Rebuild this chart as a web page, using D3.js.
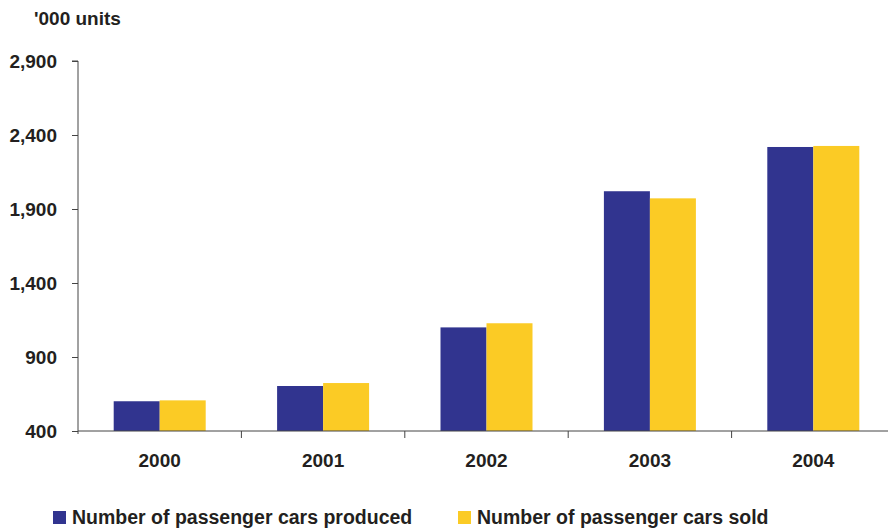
<!DOCTYPE html>
<html>
<head>
<meta charset="utf-8">
<script src="https://cdn.jsdelivr.net/npm/d3@7"></script>
<style>
  body { margin: 0; background: #fff; }
  text { font-family: "Liberation Sans", Arial, Helvetica, sans-serif; font-weight: bold; fill: #231f20; }
</style>
</head>
<body>
<svg id="chart"></svg>
<script>
// chart data
var years = ["2000", "2001", "2002", "2003", "2004"];
var produced = [601, 704, 1100, 2020, 2319];
var sold = [607, 724, 1128, 1972, 2326];
var yTicks = [400, 900, 1400, 1900, 2400, 2900];
var seriesNames = ["Number of passenger cars produced", "Number of passenger cars sold"];
var colors = ["#31348f", "#fbcb25"];

var width = 888, height = 530;
var plotLeft = 78, plotTop = 61, plotBottom = 431;

var svg = d3.select("#chart")
    .attr("width", width)
    .attr("height", height);

var y = d3.scaleLinear().domain([400, 2900]).range([plotBottom, plotTop]);
var x = d3.scaleBand().domain(years).range([plotLeft, 895]).paddingInner(0).paddingOuter(0);
var barW = 46;

// bars
var groups = svg.selectAll(".yr")
  .data(years)
  .enter().append("g")
    .attr("class", "yr");

groups.append("rect")
  .attr("x", function(d) { return x(d) + x.bandwidth()/2 - barW; })
  .attr("y", function(d, i) { return y(produced[i]); })
  .attr("width", barW)
  .attr("height", function(d, i) { return plotBottom - y(produced[i]); })
  .attr("fill", colors[0]);

groups.append("rect")
  .attr("x", function(d) { return x(d) + x.bandwidth()/2; })
  .attr("y", function(d, i) { return y(sold[i]); })
  .attr("width", barW)
  .attr("height", function(d, i) { return plotBottom - y(sold[i]); })
  .attr("fill", colors[1]);

// y axis
var yAxis = d3.axisLeft(y)
  .tickValues(yTicks)
  .tickFormat(d3.format(","))
  .tickSize(6)
  .tickPadding(15);

var gy = svg.append("g")
  .attr("transform", "translate(" + plotLeft + ",0)")
  .call(yAxis);
gy.select(".domain")
  .attr("d", "M-6," + plotTop + "H0V" + (plotBottom + 3))
  .attr("stroke", "#444");
gy.selectAll("line").attr("stroke", "#444");
gy.selectAll("text")
  .attr("fill", "#231f20")
  .style("font-size", "19px")
  .attr("dy", "0.35em");

// x axis
svg.append("line")
  .attr("x1", plotLeft).attr("x2", width)
  .attr("y1", plotBottom).attr("y2", plotBottom)
  .attr("stroke", "#444");

svg.selectAll(".xtick")
  .data(years.slice(1))
  .enter().append("line")
    .attr("x1", function(d) { return x(d); })
    .attr("x2", function(d) { return x(d); })
    .attr("y1", plotBottom)
    .attr("y2", plotBottom + 7)
    .attr("stroke", "#444");

svg.selectAll(".xlab")
  .data(years)
  .enter().append("text")
    .attr("x", function(d) { return x(d) + x.bandwidth()/2; })
    .attr("y", 467)
    .attr("text-anchor", "middle")
    .style("font-size", "19px")
    .text(function(d) { return d; });

// unit label
svg.append("text")
  .attr("x", 34)
  .attr("y", 25)
  .style("font-size", "19px")
  .text("'000 units");

// legend
var legX = [53, 458];
var leg = svg.selectAll(".leg")
  .data(seriesNames)
  .enter().append("g")
    .attr("transform", function(d, i) { return "translate(" + legX[i] + ",511)"; });
leg.append("rect")
  .attr("width", 13).attr("height", 13)
  .attr("fill", function(d, i) { return colors[i]; });
leg.append("text")
  .attr("x", 19)
  .attr("y", 13)
  .style("font-size", "19.5px")
  .text(function(d) { return d; });
</script>
</body>
</html>
